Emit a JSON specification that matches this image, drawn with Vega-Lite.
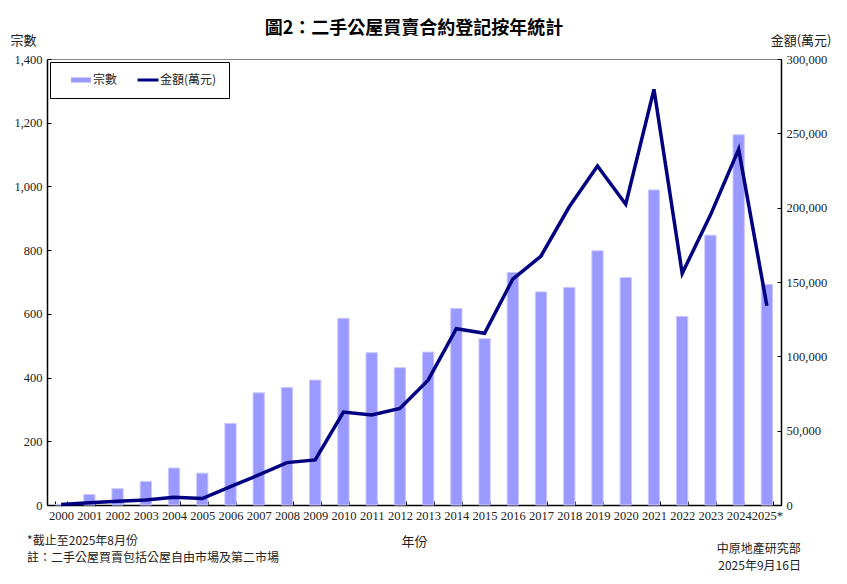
{
  "$schema": "https://vega.github.io/schema/vega-lite/v6.json",
  "autosize": "none",
  "width": 734,
  "height": 446,
  "padding": {"left": 47, "top": 59, "right": 66, "bottom": 79},
  "background": "white",
  "title": {
    "text": "圖2：二手公屋買賣合約登記按年統計",
    "font": "Noto Sans CJK TC",
    "fontSize": 18,
    "fontWeight": "bold",
    "color": "#000",
    "anchor": "middle",
    "offset": -4
  },
  "data": {
    "values": [
      {"year": "2000", "count": 2, "amount": 300},
      {"year": "2001", "count": 33, "amount": 1500},
      {"year": "2002", "count": 51, "amount": 2500},
      {"year": "2003", "count": 74, "amount": 3400},
      {"year": "2004", "count": 116, "amount": 5200},
      {"year": "2005", "count": 100, "amount": 4300},
      {"year": "2006", "count": 256, "amount": 12300},
      {"year": "2007", "count": 352, "amount": 20200},
      {"year": "2008", "count": 369, "amount": 28500},
      {"year": "2009", "count": 392, "amount": 30300},
      {"year": "2010", "count": 586, "amount": 62500},
      {"year": "2011", "count": 478, "amount": 60500},
      {"year": "2012", "count": 431, "amount": 65000},
      {"year": "2013", "count": 480, "amount": 84000},
      {"year": "2014", "count": 617, "amount": 118600},
      {"year": "2015", "count": 522, "amount": 115500},
      {"year": "2016", "count": 730, "amount": 152000},
      {"year": "2017", "count": 669, "amount": 167500},
      {"year": "2018", "count": 683, "amount": 200600},
      {"year": "2019", "count": 798, "amount": 228000},
      {"year": "2020", "count": 714, "amount": 202300},
      {"year": "2021", "count": 989, "amount": 279600},
      {"year": "2022", "count": 592, "amount": 155800},
      {"year": "2023", "count": 847, "amount": 195000},
      {"year": "2024", "count": 1162, "amount": 239200},
      {"year": "2025*", "count": 692, "amount": 134000}
    ]
  },
  "encoding": {
    "x": {
      "field": "year",
      "type": "nominal",
      "sort": null,
      "scale": {"paddingInner": 0.6, "paddingOuter": 0.3},
      "axis": {
        "title": "年份",
        "titleFont": "Noto Sans CJK TC",
        "titleFontSize": 13,
        "titleFontWeight": "normal",
        "titleColor": "#222",
        "titlePadding": 14,
        "labelAngle": 0,
        "labelFont": "Liberation Serif",
        "labelFontSize": 12.5,
        "labelColor": "#222",
        "labelPadding": 8,
        "tickBand": "extent",
        "tickSize": -4,
        "tickColor": "#000",
        "domainColor": "#000",
        "domainWidth": 1.5
      }
    }
  },
  "layer": [
    {
      "layer": [
        {
          "mark": {"type": "bar", "stroke": "#c8c8ff", "strokeWidth": 1},
          "encoding": {
            "y": {
              "field": "count",
              "type": "quantitative",
              "scale": {"domain": [0, 1400]},
              "axis": {
                "title": "宗數",
                "titleAngle": 0,
                "titleAlign": "center",
                "titleBaseline": "middle",
                "titleX": -24,
                "titleY": -19,
                "titleFont": "Noto Sans CJK TC",
                "titleFontSize": 13,
                "titleFontWeight": "normal",
                "titleColor": "#222",
                "values": [0, 200, 400, 600, 800, 1000, 1200, 1400],
                "format": ",.0f",
                "labelFont": "Liberation Serif",
                "labelFontSize": 12.5,
                "labelColor": "#222",
                "labelPadding": 9,
                "tickSize": -4,
                "tickColor": "#000",
                "domainColor": "#000",
                "domainWidth": 1.5,
                "grid": false
              }
            },
            "color": {
              "datum": "宗數",
              "legend": {
                "symbolType": "M-1.65,-0.4H1.65V0.4H-1.65Z",
                "encode": {
                  "symbols": {
                    "update": {
                      "shape": {"signal": "datum.value === '宗數' ? 'M-1.65,-0.42H1.65V0.42H-1.65Z' : 'M-1.75,-0.25H1.75V0.25H-1.75Z'"},
                      "strokeWidth": {"value": 0}
                    }
                  }
                }
              }
            }
          }
        },
        {
          "data": {"values": [{"note": "left"}]},
          "mark": {
            "type": "text",
            "text": ["*截止至2025年8月份", "註：二手公屋買賣包括公屋自由市場及第二市場"],
            "font": "Noto Sans CJK TC",
            "fontSize": 12,
            "color": "#222",
            "align": "left",
            "baseline": "alphabetic",
            "lineHeight": 17,
            "dx": -34
          },
          "encoding": {
            "x": {"datum": "2000"},
            "y": {"datum": -124}
          }
        },
        {
          "data": {"values": [{"note": "right"}]},
          "mark": {
            "type": "text",
            "text": ["中原地產研究部", "2025年9月16日"],
            "font": "Noto Sans CJK TC",
            "fontSize": 12,
            "color": "#222",
            "align": "right",
            "baseline": "alphabetic",
            "lineHeight": 17,
            "dx": 34
          },
          "encoding": {
            "x": {"datum": "2025*"},
            "y": {"datum": -150}
          }
        }
      ]
    },
    {
      "mark": {"type": "line", "strokeWidth": 3.5, "color": "#000080"},
      "encoding": {
        "y": {
          "field": "amount",
          "type": "quantitative",
          "scale": {"domain": [0, 300000]},
          "axis": {
            "orient": "right",
            "title": "金額(萬元)",
            "titleAngle": 0,
            "titleAlign": "right",
            "titleBaseline": "middle",
            "titleX": 50,
            "titleY": -19,
            "titleFont": "Noto Sans CJK TC",
            "titleFontSize": 13,
            "titleFontWeight": "normal",
            "titleColor": "#222",
            "values": [0, 50000, 100000, 150000, 200000, 250000, 300000],
            "format": ",.0f",
            "labelFont": "Liberation Serif",
            "labelFontSize": 12.5,
            "labelColor": "#222",
            "labelPadding": 9,
            "tickSize": -4,
            "tickColor": "#000",
            "domainColor": "#000",
            "domainWidth": 1.5,
            "grid": false
          }
        },
        "color": {
          "datum": "金額(萬元)",
          "legend": {
            "symbolType": "M-1.65,-0.4H1.65V0.4H-1.65Z",
            "encode": {
              "symbols": {
                "update": {
                  "shape": {"signal": "datum.value === '宗數' ? 'M-1.65,-0.42H1.65V0.42H-1.65Z' : 'M-1.75,-0.25H1.75V0.25H-1.75Z'"},
                  "strokeWidth": {"value": 0}
                }
              }
            }
          }
        }
      }
    }
  ],
  "resolve": {"scale": {"y": "independent"}},
  "config": {
    "view": {"stroke": "#888", "strokeWidth": 1},
    "range": {"category": ["#9999ff", "#000080"]},
    "legend": {
      "orient": "top-left",
      "offset": 3,
      "direction": "horizontal",
      "title": null,
      "strokeColor": "#000",
      "strokeWidth": 1,
      "fillColor": "white",
      "padding": 12,
      "labelFont": "Noto Sans CJK TC",
      "labelFontSize": 12,
      "labelColor": "#222",
      "labelOffset": 6,
      "symbolSize": 144,
      "columnPadding": 11,
      "symbolOffset": 13
    }
  }
}
